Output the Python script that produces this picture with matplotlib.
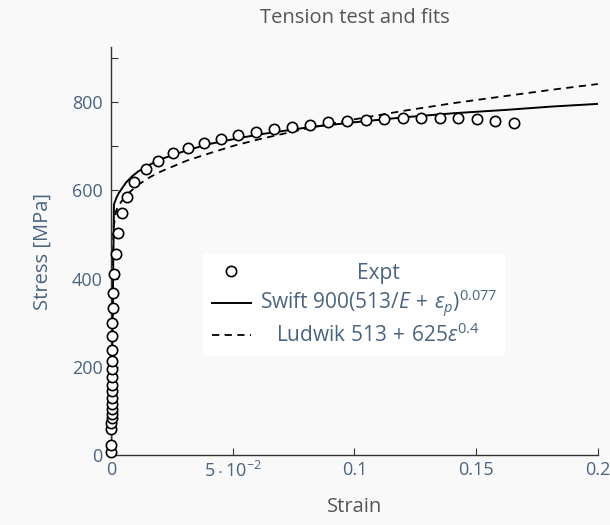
import matplotlib
matplotlib.use("Agg")
import matplotlib.pyplot as plt
from matplotlib.ticker import MultipleLocator

# experimental points (strain, stress in MPa)
expt_strain = [0.0000, 0.0000, 0.0001, 0.0001, 0.0002, 0.0002, 0.0002, 0.0003,
               0.0003, 0.0003, 0.0004, 0.0004, 0.0004, 0.0005, 0.0005, 0.0006,
               0.0006, 0.0007, 0.0008, 0.0012, 0.0019, 0.0030, 0.0044, 0.0064,
               0.0096, 0.0143, 0.0194, 0.0253, 0.0317, 0.0383, 0.0452, 0.0523,
               0.0595, 0.0669, 0.0743, 0.0817, 0.0893, 0.0970, 0.1046, 0.1122,
               0.1198, 0.1274, 0.1350, 0.1426, 0.1502, 0.1578, 0.1654]
expt_stress = [7, 23, 58, 72, 83, 93, 104, 116,
               129, 144, 159, 177, 195, 214, 239, 269,
               299, 333, 368, 410, 456, 504, 548, 585,
               620, 648, 667, 684, 695, 708, 717, 725,
               732, 738, 743, 749, 754, 757, 760, 762,
               763, 764, 763, 763, 761, 758, 753]

# Swift fit
swift_strain = [0.0, 0.0012, 0.0022, 0.0032, 0.0062, 0.0087, 0.0112, 0.0162,
                0.0212, 0.0312, 0.0412, 0.0512, 0.0612, 0.0812, 0.1012,
                0.1212, 0.1412, 0.1612, 0.1812, 0.2]
swift_stress = [0, 568, 583, 594, 618, 632, 643, 659,
                672, 691, 706, 717, 727, 743, 755,
                766, 775, 782, 790, 796]

# Ludwik fit
ludwik_strain = [0.0, 0.0010, 0.0020, 0.0030, 0.0060, 0.0110, 0.0160, 0.0210,
                 0.0310, 0.0410, 0.0510, 0.0610, 0.0810, 0.1010, 0.1210,
                 0.1410, 0.1610, 0.1810, 0.2]
ludwik_stress = [0, 513, 552, 565, 588, 612, 630, 644,
                 667, 685, 702, 716, 741, 762, 781,
                 798, 813, 828, 841]

xtick_vals = [0, 0.05, 0.1, 0.15, 0.2]
xtick_labels = ['0', r'$5\cdot10^{-2}$', '0.1', '0.15', '0.2']

plt.rcParams['font.family'] = ['Open Sans', 'DejaVu Sans']
plt.rcParams['mathtext.fontset'] = 'custom'
plt.rcParams['mathtext.rm'] = 'Open Sans'
plt.rcParams['mathtext.it'] = 'Open Sans:italic'
plt.rcParams['mathtext.bf'] = 'Open Sans:bold'

bg = '#f9f9f9'
tick_col = '#4a6480'
fig = plt.figure(figsize=(6.1, 5.25), dpi=100, facecolor=bg)
ax = fig.add_axes([0.182, 0.1333, 0.798, 0.7772])
ax.set_facecolor(bg)

ax.plot(expt_strain, expt_stress, 'o', markersize=7.4, markerfacecolor='white',
        markeredgecolor='black', markeredgewidth=1.2, clip_on=False, zorder=3,
        label='Expt')
ax.plot(swift_strain, swift_stress, '-', color='black', linewidth=1.4,
        label=r'Swift $900(513/E\,+\,\epsilon_p)^{0.077}$', zorder=2)
ax.plot(ludwik_strain, ludwik_stress, '--', color='black', linewidth=1.3,
        dashes=(4, 3), label=r'Ludwik $513\,+\,625\epsilon^{0.4}$', zorder=2)

ax.set_xlim(0, 0.2)
ax.set_ylim(0, 925)
ax.set_xticks(xtick_vals)
ax.set_xticklabels(xtick_labels)
ax.yaxis.set_major_locator(MultipleLocator(200))
ax.yaxis.set_minor_locator(MultipleLocator(100))

ax.spines['top'].set_visible(False)
ax.spines['right'].set_visible(False)
for s in ['left', 'bottom']:
    ax.spines[s].set_color('#333333')
    ax.spines[s].set_linewidth(1.0)

ax.tick_params(which='both', direction='in', length=5, width=0.8,
               color='#333333', labelsize=13, labelcolor=tick_col)
ax.tick_params(axis='y', which='both', pad=6)
ax.tick_params(axis='x', which='both', pad=4)

ax.set_title('Tension test and fits', fontsize=14.5, color='#555555', pad=17)
ax.set_xlabel('Strain', fontsize=14.5, color='#555555', labelpad=12)
ax.set_ylabel('Stress [MPa]', fontsize=14.5, color=tick_col, labelpad=14)

leg = ax.legend(loc='center', bbox_to_anchor=(0.5, 0.368), fontsize=15,
                frameon=True, fancybox=False, facecolor='white',
                edgecolor='none', framealpha=1.0, handlelength=1.9,
                handletextpad=0.4, labelspacing=0.2, borderpad=0.4)
for t in leg.get_texts():
    t.set_color(tick_col)

# centre the legend texts like the original
fig.canvas.draw()
r = fig.canvas.get_renderer()
widths = [t.get_window_extent(r).width for t in leg.get_texts()]
wmax = max(widths)
for t, w in zip(leg.get_texts(), widths):
    t.set_x((wmax - w) / 2)

fig.savefig('out.png', dpi=100, facecolor=bg)
